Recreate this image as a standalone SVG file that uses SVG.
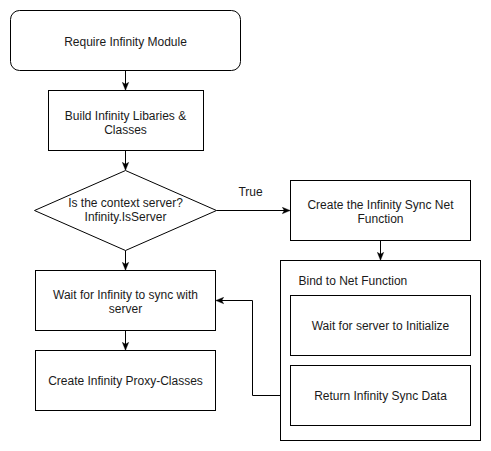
<svg xmlns="http://www.w3.org/2000/svg" width="491" height="451" viewBox="0 0 491 451">
<defs>
<style>
.box{fill:#fff;stroke:#000;stroke-width:1}
.edge{fill:none;stroke:#000;stroke-width:1}
text{font-family:"Liberation Sans",Arial,sans-serif;font-size:12px;fill:#1a1a1a;text-anchor:middle}
</style>
<marker id="ah" viewBox="0 0 10 10" refX="9" refY="5" markerWidth="8" markerHeight="8" markerUnits="userSpaceOnUse" orient="auto-start-reverse">
<path d="M0,1 L10,5 L0,9 L2.5,5 Z" fill="#000" stroke="#000" stroke-width="0.5"/>
</marker>
</defs>
<rect width="491" height="451" fill="#fff"/>
<g transform="translate(0.5,0.5)">
<g id="connectors">
<path class="edge" d="M125,70 L125,89" marker-end="url(#ah)"/>
<path class="edge" d="M125,150 L125,169" marker-end="url(#ah)"/>
<path class="edge" d="M125,250 L125,269" marker-end="url(#ah)"/>
<path class="edge" d="M125,330 L125,349" marker-end="url(#ah)"/>
<path class="edge" d="M216,210 L289,210" marker-end="url(#ah)"/>
<path class="edge" d="M380,240 L380,259" marker-end="url(#ah)"/>
<path class="edge" d="M216,300 L252,300 L252,395 L289,395" marker-start="url(#ah)" marker-end="url(#ah)"/>
<text x="250" y="195">True</text>
</g>
<g id="n1">
<rect class="box" x="10" y="10" width="230" height="60" rx="9" ry="9"/>
<text x="125" y="45">Require Infinity Module</text>
</g>
<g id="n2">
<rect class="box" x="48" y="90" width="155" height="60"/>
<text x="125" y="119">Build Infinity Libaries &amp;</text>
<text x="125" y="133">Classes</text>
</g>
<g id="n3">
<path class="box" d="M125,170 L216,210 L125,250 L34,210 Z"/>
<text x="125" y="206">Is the context server?</text>
<text x="125" y="220">Infinity.IsServer</text>
</g>
<g id="n4">
<rect class="box" x="35" y="270" width="180" height="60"/>
<text x="125" y="298">Wait for Infinity to sync with</text>
<text x="125" y="312">server</text>
</g>
<g id="n5">
<rect class="box" x="35" y="350" width="180" height="60"/>
<text x="125" y="384">Create Infinity Proxy-Classes</text>
</g>
<g id="n6">
<rect class="box" x="290" y="180" width="180" height="60"/>
<text x="380" y="208">Create the Infinity Sync Net</text>
<text x="380" y="222">Function</text>
</g>
<g id="n7">
<rect class="box" x="280" y="260" width="200" height="180"/>
<text x="298" y="284" style="text-anchor:start">Bind to Net Function</text>
</g>
<g id="n8">
<rect class="box" x="290" y="295" width="180" height="60"/>
<text x="380" y="329">Wait for server to Initialize</text>
</g>
<g id="n9">
<rect class="box" x="290" y="365" width="180" height="60"/>
<text x="380" y="399">Return Infinity Sync Data</text>
</g>
</g>
</svg>
